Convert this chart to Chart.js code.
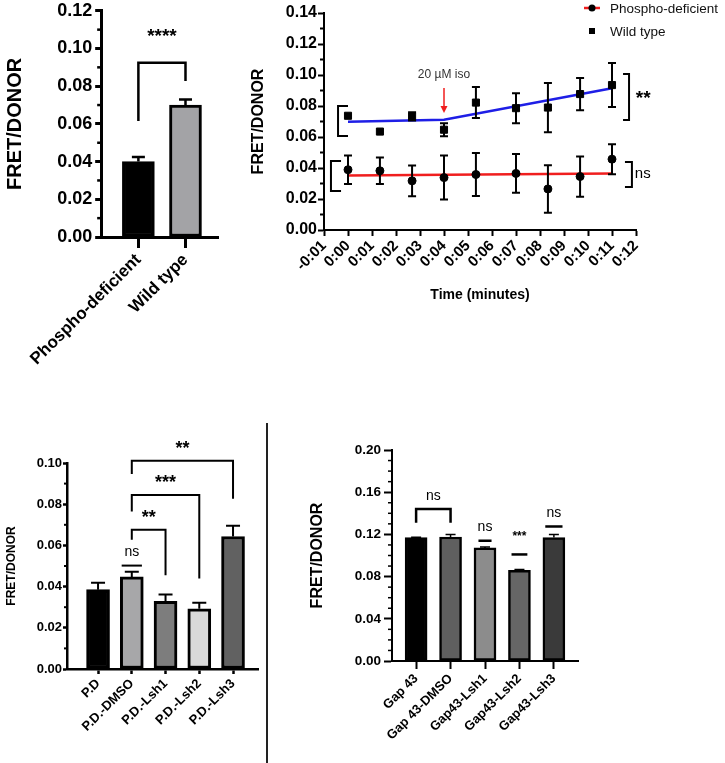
<!DOCTYPE html>
<html><head><meta charset="utf-8">
<script src="https://cdn.jsdelivr.net/npm/chart.js@4.4.0/dist/chart.umd.min.js"></script>
<style>
html,body{margin:0;padding:0;background:#fff;width:725px;height:763px;overflow:hidden;}
canvas{position:absolute;}
#divider{position:absolute;left:266px;top:423px;width:1.5px;height:340px;background:#222;}
</style></head><body>
<canvas id="cA" width="250" height="400" style="left:0;top:-3px"></canvas>
<canvas id="cB" width="480" height="310" style="left:245px;top:0"></canvas>
<canvas id="cC" width="262" height="343" style="left:0;top:420px"></canvas>
<canvas id="cD" width="445" height="343" style="left:280px;top:420px"></canvas>
<div id="divider"></div>
<script>
// ---------- DATA ----------
// Panel A
const aCategories = ["Phospho-deficient", "Wild type"];
const aMeans = [0.040, 0.070];
const aSEM = [0.0025, 0.0030];
const aColors = ["#000000", "#a3a3a6"];

// Panel B (time course)
const bTickLabels = ["-0:01","0:00","0:01","0:02","0:03","0:04","0:05","0:06","0:07","0:08","0:09","0:10","0:11","0:12"];
const bTimes = [0, 1.33, 2.67, 4, 5.33, 7, 8.33, 9.67, 11];
const bPD = [0.0389, 0.0382, 0.0317, 0.0338, 0.0358, 0.0365, 0.0265, 0.0345, 0.0457];
const bPDerr = [0.0092, 0.0085, 0.0099, 0.0142, 0.0138, 0.0125, 0.0153, 0.0130, 0.0097];
const bWT = [0.0737, 0.0635, 0.0733, 0.0647, 0.0822, 0.0786, 0.0790, 0.0877, 0.0935];
const bWTerr = [0, 0, 0.0027, 0.0042, 0.0100, 0.0097, 0.0159, 0.0104, 0.0142];
const bPDfitX = [0, 11];
const bPDfitY = [0.0352, 0.0365];
const bWTfitX = [0, 4, 11];
const bWTfitY = [0.0698, 0.0711, 0.0915];
const bSeriesNames = ["Phospho-deficient", "Wild type"];

// Panel C
const cCategories = ["P.D", "P.D.-DMSO", "P.D.-Lsh1", "P.D.-Lsh2", "P.D.-Lsh3"];
const cMeans = [0.0385, 0.0447, 0.0328, 0.0292, 0.0643];
const cSEM = [0.0034, 0.0025, 0.0034, 0.0030, 0.0052];
const cColors = ["#000000", "#a7a7a9", "#7d7d7d", "#d9d9d9", "#616161"];

// Panel D
const dCategories = ["Gap 43", "Gap 43-DMSO", "Gap43-Lsh1", "Gap43-Lsh2", "Gap43-Lsh3"];
const dMeans = [0.1170, 0.1175, 0.1072, 0.0860, 0.1170];
const dSEM = [0.0003, 0.0025, 0.0008, 0.0007, 0.0028];
const dColors = ["#000000", "#5f5f5f", "#8c8c8c", "#666666", "#3a3a3a"];

// ---------- PLUGINS ----------
const FF = "'Liberation Sans', Arial, Helvetica, sans-serif";

const errPlugin = {
  id: 'errbars',
  afterDatasetsDraw(chart) {
    const ctx = chart.ctx, xs = chart.scales.x, ys = chart.scales.y;
    chart.data.datasets.forEach((ds) => {
      if (!ds.errors) return;
      ctx.save();
      ctx.strokeStyle = '#000';
      ctx.lineWidth = ds.errWidth || 2;
      ds.data.forEach((d, j) => {
        const e = ds.errors[j];
        if (!e) return;
        const x = xs.getPixelForValue(d.x);
        const yT = ys.getPixelForValue(d.y + e);
        const yB = ys.getPixelForValue(ds.errUpperOnly ? d.y : d.y - e);
        const cw = ds.errCap / 2;
        ctx.beginPath();
        ctx.moveTo(x, yB); ctx.lineTo(x, yT);
        ctx.moveTo(x - cw, yT); ctx.lineTo(x + cw, yT);
        if (!ds.errUpperOnly) { ctx.moveTo(x - cw, yB); ctx.lineTo(x + cw, yB); }
        ctx.stroke();
      });
      ctx.restore();
    });
  }
};

const minorPlugin = {
  id: 'minorTicks',
  afterDraw(chart, args, opts) {
    if (!opts || !opts.step) return;
    const ys = chart.scales.y, ctx = chart.ctx, left = chart.chartArea.left;
    ctx.save();
    ctx.strokeStyle = '#000';
    ctx.lineWidth = opts.width || 2;
    const n = Math.round((ys.max - ys.min) / opts.step);
    for (let k = 1; k < n; k++) {
      if (k % opts.every === 0) continue;
      const y = ys.getPixelForValue(ys.min + k * opts.step);
      ctx.beginPath();
      ctx.moveTo(left, y); ctx.lineTo(left - opts.len, y);
      ctx.stroke();
    }
    ctx.restore();
  }
};

const sigPlugin = {
  id: 'sig',
  afterDraw(chart, args, opts) {
    if (!opts || !opts.items) return;
    const ctx = chart.ctx, xs = chart.scales.x, ys = chart.scales.y;
    const X = v => xs.getPixelForValue(v), Y = v => ys.getPixelForValue(v);
    ctx.save();
    ctx.lineCap = 'butt';
    ctx.lineJoin = 'miter';
    opts.items.forEach(it => {
      ctx.strokeStyle = it.color || '#000';
      ctx.fillStyle = it.color || '#000';
      ctx.lineWidth = it.lw || opts.lw || 2;
      if (it.t === 'bracket') {
        ctx.beginPath();
        ctx.moveTo(X(it.x1), Y(it.l)); ctx.lineTo(X(it.x1), Y(it.top));
        ctx.lineTo(X(it.x2), Y(it.top)); ctx.lineTo(X(it.x2), Y(it.r));
        ctx.stroke();
      } else if (it.t === 'hline') {
        ctx.beginPath();
        ctx.moveTo(X(it.x1), Y(it.y)); ctx.lineTo(X(it.x2), Y(it.y));
        ctx.stroke();
      } else if (it.t === 'vbr') {
        ctx.beginPath();
        ctx.moveTo(X(it.xArm), Y(it.y1)); ctx.lineTo(X(it.x), Y(it.y1));
        ctx.lineTo(X(it.x), Y(it.y2)); ctx.lineTo(X(it.xArm), Y(it.y2));
        ctx.stroke();
      } else if (it.t === 'arrow') {
        const x = X(it.x), y1 = Y(it.y1), y2 = Y(it.y2);
        ctx.beginPath(); ctx.moveTo(x, y1); ctx.lineTo(x, y2 - 5); ctx.stroke();
        ctx.beginPath(); ctx.moveTo(x - 3.5, y2 - 7); ctx.lineTo(x + 3.5, y2 - 7); ctx.lineTo(x, y2); ctx.closePath(); ctx.fill();
      } else if (it.t === 'text') {
        ctx.font = it.font;
        ctx.textAlign = it.align || 'center';
        ctx.textBaseline = 'middle';
        ctx.fillText(it.s, X(it.x), Y(it.y));
      }
    });
    ctx.restore();
  }
};

const legendPlugin = {
  id: 'customLegend',
  afterDraw(chart, args, opts) {
    if (!opts || !opts.x) return;
    const ctx = chart.ctx;
    ctx.save();
    let row = 0;
    chart.data.datasets.forEach(ds => {
      if (!ds.legendMarker) return;
      const y = opts.y + row * opts.gap;
      const mx = opts.x;
      if (ds.legendLine) {
        ctx.strokeStyle = ds.legendLine; ctx.lineWidth = 2.5;
        ctx.beginPath(); ctx.moveTo(mx - 8, y); ctx.lineTo(mx + 8, y); ctx.stroke();
      }
      ctx.fillStyle = '#000';
      if (ds.pointStyle === 'circle') {
        ctx.beginPath(); ctx.arc(mx, y, 3.5, 0, Math.PI * 2); ctx.fill();
      } else {
        ctx.fillRect(mx - 3, y - 3, 6, 6);
      }
      ctx.font = opts.font;
      ctx.textAlign = 'left'; ctx.textBaseline = 'middle';
      ctx.fillStyle = '#111';
      ctx.fillText(ds.label, opts.textX, y + 1);
      row++;
    });
    ctx.restore();
  }
};

Chart.register(errPlugin, minorPlugin, sigPlugin, legendPlugin);
Chart.defaults.font.family = FF;
Chart.defaults.color = '#000';

function catScale(cats, min, max, opt) {
  return {
    type: 'linear', min: min, max: max, offset: false,
    afterBuildTicks: s => { s.ticks = cats.map((_, i) => ({ value: i })); },
    ticks: {
      callback: v => cats[v], autoSkip: false, maxRotation: 45, minRotation: 45,
      font: { size: opt.fs, weight: 'bold', family: FF }, color: '#000', padding: opt.pad
    },
    grid: { offset: false, drawOnChartArea: false, drawTicks: true, tickLength: opt.tl, tickColor: '#000', tickWidth: opt.bw },
    border: { color: '#000', width: opt.bw },
    afterFit: s => { s.height = opt.h; }
  };
}
function valScale(max, step, opt) {
  return {
    min: 0, max: max,
    ticks: {
      stepSize: step, callback: v => Number(v).toFixed(2),
      font: { size: opt.fs, weight: 'bold', family: FF }, color: '#000', padding: opt.pad
    },
    grid: { drawOnChartArea: false, drawTicks: true, tickLength: opt.tl, tickColor: '#000', tickWidth: opt.bw },
    border: { color: '#000', width: opt.bw },
    title: { display: true, text: 'FRET/DONOR', color: '#000',
      font: { size: opt.tfs, weight: 'bold', family: FF }, padding: { top: opt.tpad, bottom: 0 } },
    afterFit: s => { s.width = opt.w; }
  };
}
const base = { responsive: false, animation: false, devicePixelRatio: 1,
  plugins: { legend: { display: false }, tooltip: { enabled: false } } };

// ---------- PANEL A ----------
new Chart(document.getElementById('cA'), {
  type: 'bar',
  data: { datasets: [{
    data: aMeans.map((v, i) => ({ x: i, y: v })),
    backgroundColor: aColors, borderColor: '#000', borderWidth: 3, borderSkipped: false,
    barThickness: 32, errors: aSEM, errUpperOnly: true, errCap: 13, errWidth: 2.5
  }] },
  options: Object.assign({}, base, {
    layout: { padding: { top: 9, right: 32, bottom: 0, left: 0 } },
    scales: {
      x: catScale(aCategories, -0.79, 1.69, { fs: 17, pad: 2, tl: 11, bw: 3, h: 160 }),
      y: valScale(0.12, 0.02, { fs: 18, pad: 3, tl: 6, bw: 3, tfs: 20, tpad: 1, w: 99 })
    },
    plugins: Object.assign({}, base.plugins, {
      minorTicks: { step: 0.01, every: 2, len: 4, width: 2.5 },
      sig: { lw: 2.5, items: [
        { t: 'bracket', x1: 0, x2: 1, top: 0.0924, l: 0.0616, r: 0.0827 },
        { t: 'text', x: 0.5, y: 0.1060, s: '****', font: 'bold 19px ' + FF }
      ] }
    })
  })
});

// ---------- PANEL B ----------
const blue = 'rgb(30,30,230)', red = 'rgb(240,30,30)';
new Chart(document.getElementById('cB'), {
  type: 'scatter',
  data: { datasets: [
    { label: bSeriesNames[0], data: bTimes.map((t, i) => ({ x: t, y: bPD[i] })),
      pointStyle: 'circle', pointRadius: 4, backgroundColor: '#000', borderColor: '#000',
      errors: bPDerr, errCap: 8, errWidth: 2, order: 0, legendMarker: true, legendLine: red },
    { label: bSeriesNames[1], data: bTimes.map((t, i) => ({ x: t, y: bWT[i] })),
      pointStyle: 'rect', pointRadius: 5, backgroundColor: '#000', borderColor: '#000',
      errors: bWTerr, errCap: 8, errWidth: 2, order: 0, legendMarker: true },
    { data: bPDfitX.map((x, i) => ({ x: x, y: bPDfitY[i] })), showLine: true,
      borderColor: red, borderWidth: 2.5, pointRadius: 0, order: 1 },
    { data: bWTfitX.map((x, i) => ({ x: x, y: bWTfitY[i] })), showLine: true,
      borderColor: blue, borderWidth: 2.5, pointRadius: 0, order: 1 }
  ] },
  options: Object.assign({}, base, {
    layout: { padding: { top: 13, right: 89, bottom: 0, left: 0 } },
    scales: {
      x: {
        type: 'linear', min: -1, max: 12,
        ticks: { stepSize: 1, autoSkip: false, maxRotation: 45, minRotation: 45,
          callback: v => bTickLabels[Math.round(v) + 1],
          font: { size: 15, weight: 'bold', family: FF }, color: '#000', padding: 1 },
        grid: { drawOnChartArea: false, tickLength: 6, tickColor: '#000', tickWidth: 2 },
        border: { color: '#000', width: 2 },
        title: { display: true, text: 'Time (minutes)', color: '#000',
          font: { size: 14, weight: 'bold', family: FF }, padding: { top: 0, bottom: 6 } },
        afterFit: s => { s.height = 80; }
      },
      y: valScale(0.14, 0.02, { fs: 16, pad: 1, tl: 6, bw: 2, tfs: 16, tpad: 4, w: 79 })
    },
    plugins: Object.assign({}, base.plugins, {
      minorTicks: { step: 0.01, every: 2, len: 4, width: 2 },
      customLegend: { x: 347, textX: 365, y: 8, gap: 23, font: '13.5px ' + FF },
      sig: { lw: 2, items: [
        { t: 'vbr', x: -0.415, xArm: 0.0, y1: 0.0800, y2: 0.0606 },
        { t: 'vbr', x: -0.71, xArm: -0.29, y1: 0.0445, y2: 0.0252 },
        { t: 'vbr', x: 11.71, xArm: 11.46, y1: 0.1006, y2: 0.0710 },
        { t: 'vbr', x: 11.83, xArm: 11.54, y1: 0.0439, y2: 0.0277 },
        { t: 'text', x: 12.3, y: 0.0845, s: '**', font: 'bold 19px ' + FF },
        { t: 'text', x: 12.28, y: 0.0361, s: 'ns', font: '15px ' + FF },
        { t: 'text', x: 4, y: 0.1002, s: '20 \u00B5M iso', font: '12px ' + FF, color: '#333' },
        { t: 'arrow', x: 4, y1: 0.0916, y2: 0.0755, color: red, lw: 1.5 }
      ] }
    })
  })
});

// ---------- PANEL C ----------
new Chart(document.getElementById('cC'), {
  type: 'bar',
  data: { datasets: [{
    data: cMeans.map((v, i) => ({ x: i, y: v })),
    backgroundColor: cColors, borderColor: '#000', borderWidth: 3, borderSkipped: false,
    barThickness: 23, errors: cSEM, errUpperOnly: true, errCap: 14, errWidth: 2
  }] },
  options: Object.assign({}, base, {
    layout: { padding: { top: 43, right: 4, bottom: 0, left: 0 } },
    scales: {
      x: catScale(cCategories, -0.92, 4.74, { fs: 13, pad: 2, tl: 5, bw: 2.5, h: 94 }),
      y: valScale(0.10, 0.02, { fs: 13, pad: 1, tl: 4, bw: 2.5, tfs: 12, tpad: 4, w: 67 })
    },
    plugins: Object.assign({}, base.plugins, {
      minorTicks: { step: 0.01, every: 2, len: 3, width: 2 },
      sig: { lw: 2, items: [
        { t: 'hline', x1: 0.7, x2: 1.3, y: 0.0502 },
        { t: 'text', x: 1, y: 0.0566, s: 'ns', font: '14px ' + FF },
        { t: 'bracket', x1: 1, x2: 2, top: 0.0676, l: 0.0627, r: 0.0455 },
        { t: 'text', x: 1.5, y: 0.0732, s: '**', font: 'bold 18px ' + FF },
        { t: 'bracket', x1: 1, x2: 3, top: 0.0845, l: 0.0765, r: 0.0439 },
        { t: 'text', x: 2, y: 0.0903, s: '***', font: 'bold 18px ' + FF },
        { t: 'bracket', x1: 1, x2: 4, top: 0.1011, l: 0.0947, r: 0.0826 },
        { t: 'text', x: 2.5, y: 0.1070, s: '**', font: 'bold 18px ' + FF }
      ] }
    })
  })
});

// ---------- PANEL D ----------
new Chart(document.getElementById('cD'), {
  type: 'bar',
  data: { datasets: [{
    data: dMeans.map((v, i) => ({ x: i, y: v })),
    backgroundColor: dColors, borderColor: '#000', borderWidth: 2.5, borderSkipped: false,
    barThickness: 22, errors: dSEM, errUpperOnly: true, errCap: 10, errWidth: 1.5
  }] },
  options: Object.assign({}, base, {
    layout: { padding: { top: 30, right: 147, bottom: 0, left: 0 } },
    scales: {
      x: catScale(dCategories, -0.7, 4.7, { fs: 13, pad: 2, tl: 8, bw: 2, h: 102 }),
      y: valScale(0.20, 0.04, { fs: 13.5, pad: 3, tl: 8, bw: 2, tfs: 16, tpad: 28, w: 112 })
    },
    plugins: Object.assign({}, base.plugins, {
      minorTicks: { step: 0.01, every: 4, len: 4, width: 1.5 },
      sig: { lw: 2.5, items: [
        { t: 'bracket', x1: 0, x2: 1, top: 0.144, l: 0.131, r: 0.131 },
        { t: 'text', x: 0.5, y: 0.156, s: 'ns', font: '14px ' + FF },
        { t: 'hline', x1: 1.81, x2: 2.19, y: 0.114 },
        { t: 'text', x: 2, y: 0.127, s: 'ns', font: '14px ' + FF },
        { t: 'hline', x1: 2.77, x2: 3.23, y: 0.101 },
        { t: 'text', x: 3, y: 0.1175, s: '***', font: 'bold 12px ' + FF },
        { t: 'hline', x1: 3.75, x2: 4.25, y: 0.1275 },
        { t: 'text', x: 4, y: 0.1405, s: 'ns', font: '14px ' + FF }
      ] }
    })
  })
});
</script>
</body></html>
